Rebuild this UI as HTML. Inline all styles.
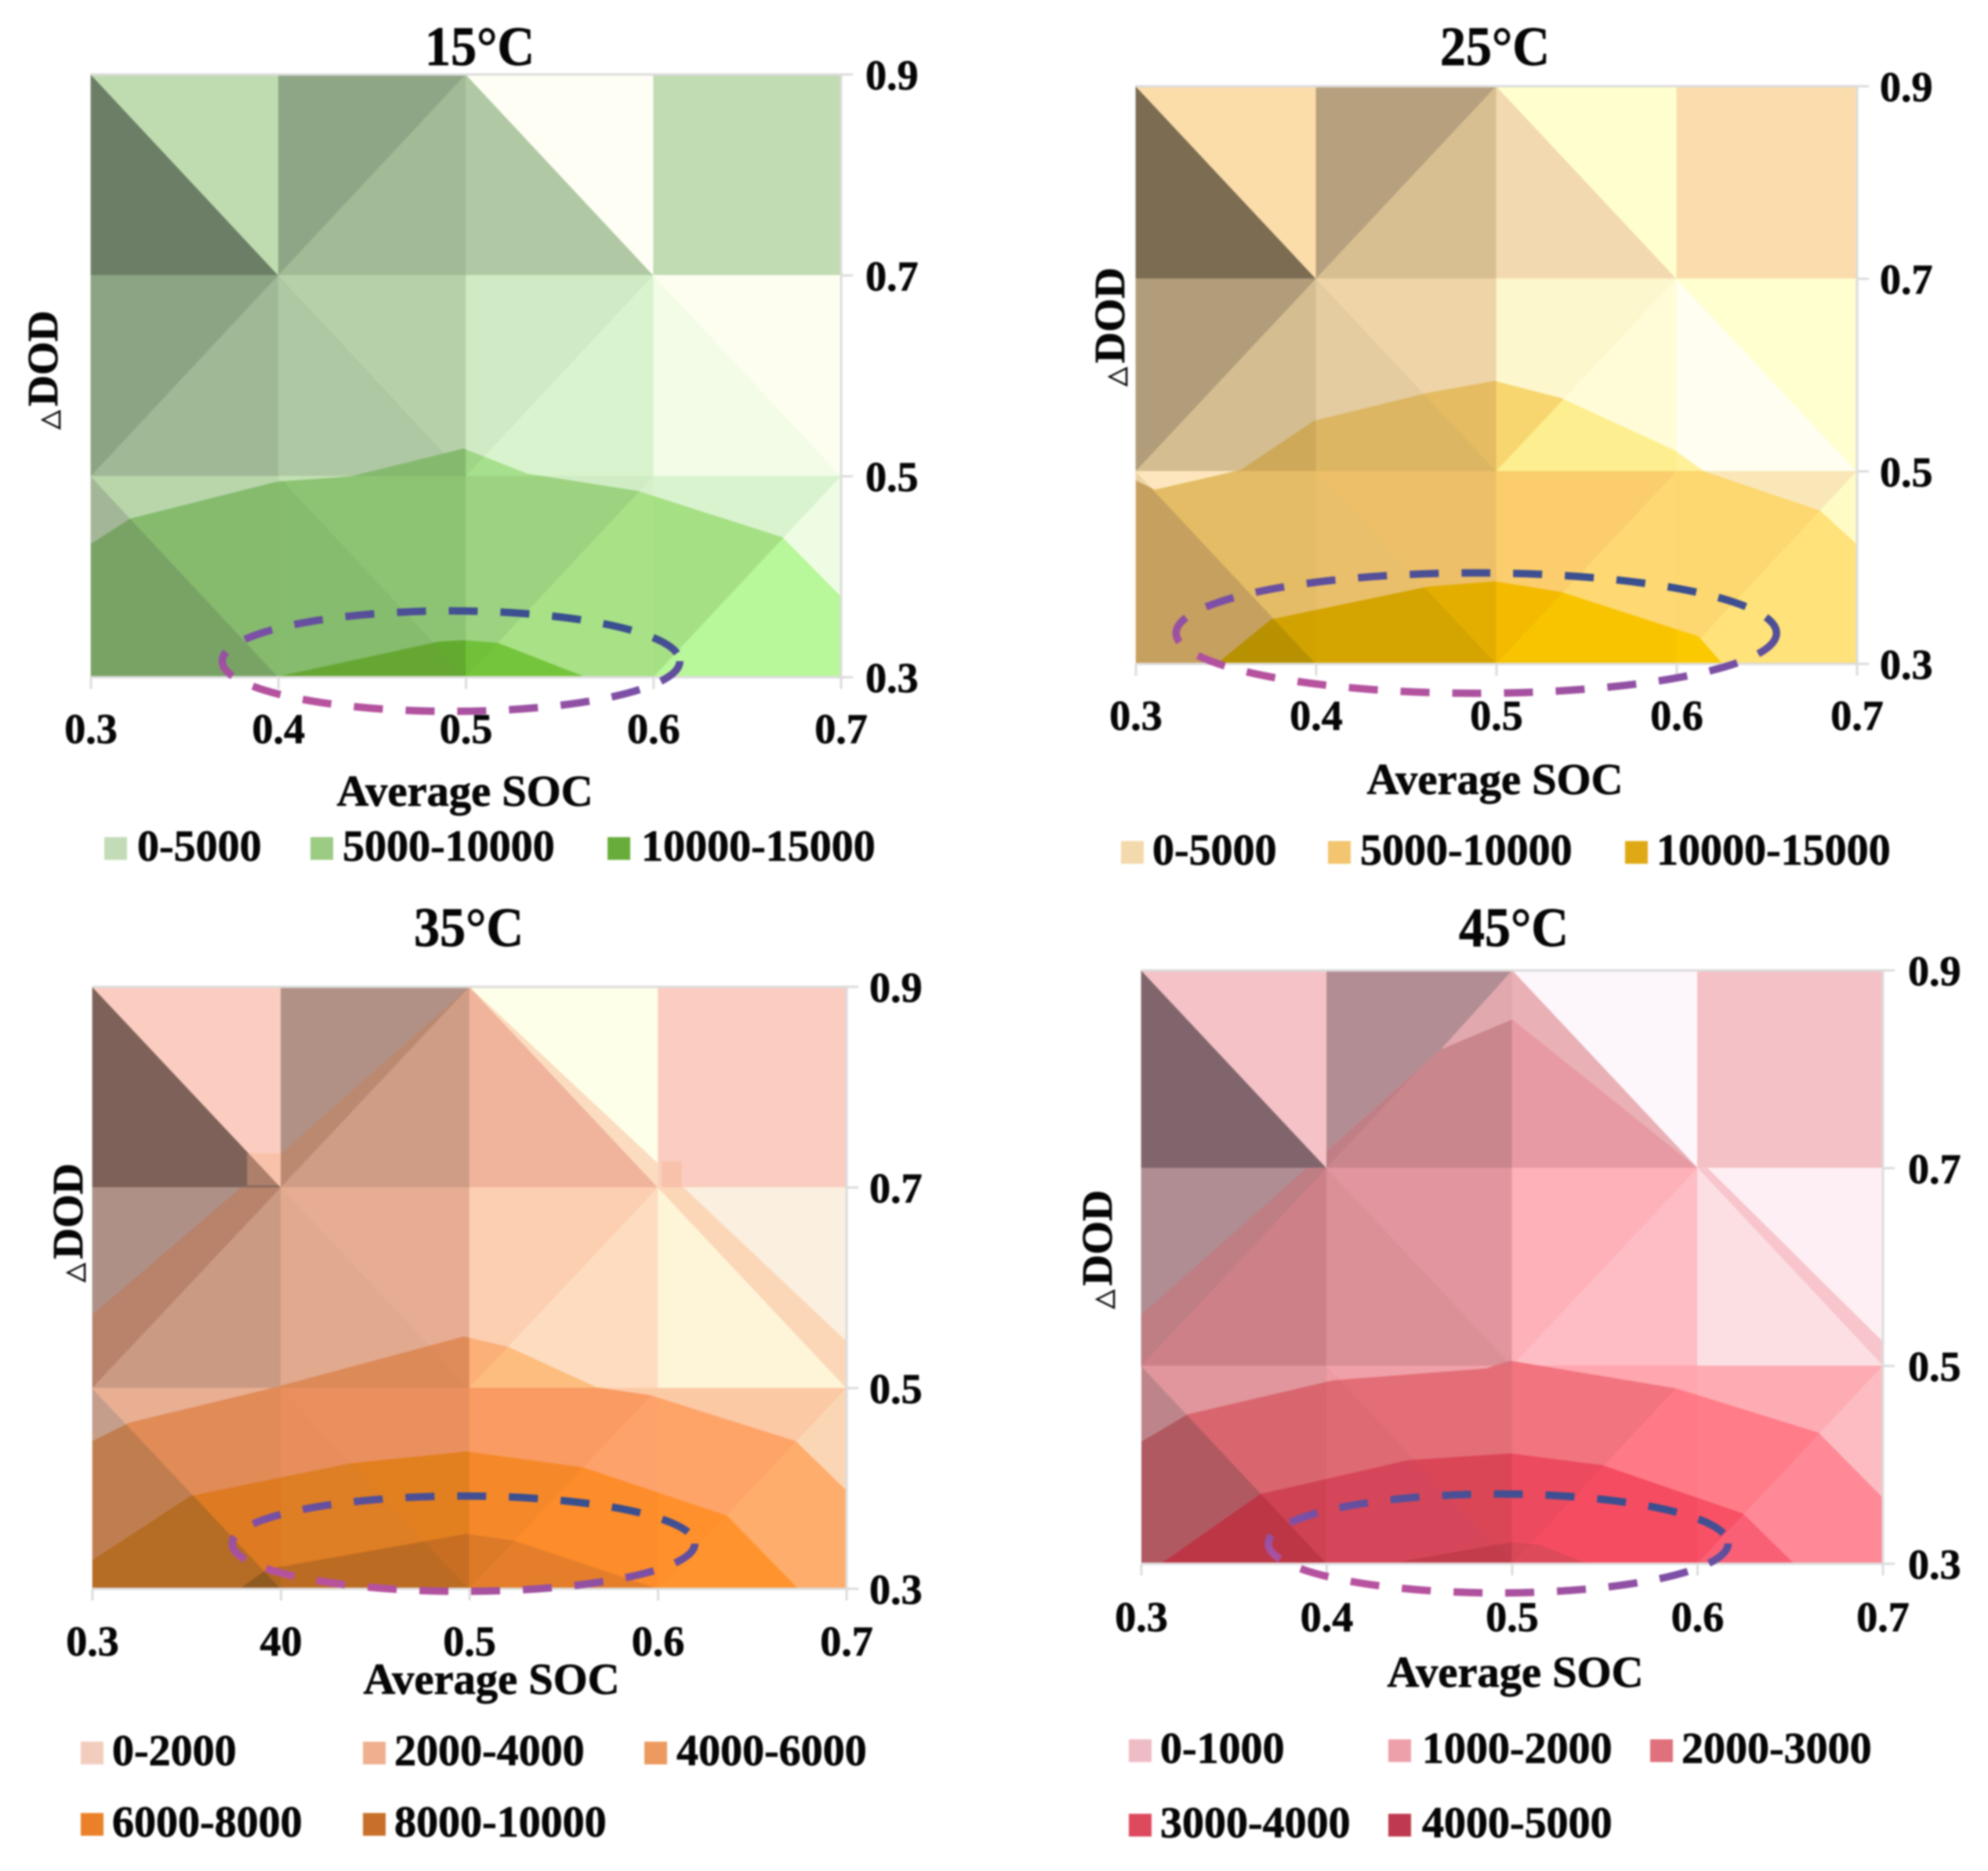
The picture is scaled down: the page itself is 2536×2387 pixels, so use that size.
<!DOCTYPE html>
<html lang="en">
<head>
<meta charset="utf-8">
<title>Cycle life contour charts by temperature</title>
<style>
html,body{margin:0;padding:0;background:#fff;}
svg{display:block;filter:blur(1.1px);}
text{font-family:"Liberation Serif",serif;font-weight:bold;fill:#060606;stroke:#060606;stroke-width:0.7px;}
</style>
</head>
<body>
<svg id="figure" xmlns="http://www.w3.org/2000/svg" width="2536" height="2387" viewBox="0 0 2536 2387">
  <defs>
    <linearGradient id="ellipseStroke" x1="0.1" y1="1" x2="0.8" y2="0">
      <stop offset="0" stop-color="#c9539c"/>
      <stop offset="0.5" stop-color="#7b4fa6"/>
      <stop offset="1" stop-color="#2f4f8c"/>
    </linearGradient>
  </defs>
</svg>
<script>
// ---- data: axis values and labels ----
const socTicks = [0.3, 0.4, 0.5, 0.6, 0.7];
const dodTicks = [0.9, 0.7, 0.5, 0.3];
const dodLabels = ['0.9', '0.7', '0.5', '0.3'];
const socLabels = ['0.3', '0.4', '0.5', '0.6', '0.7'];
const socLabels35 = ['0.3', '40', '0.5', '0.6', '0.7'];
const diagonals = [['\\', '/', '\\', '\\'], ['/', '\\', '/', '\\'], ['\\', '\\', '/', '/']];

// ---- data: contour boundaries as [SOC, DOD] pairs ----
const contours15 = [
  [[0.3,0.4329],[0.321,0.4579],[0.399,0.4947],[0.4386,0.5],[0.4987,0.5276],[0.5327,0.5026],[0.5915,0.4855],[0.6686,0.4395],[0.7,0.3803],[0.7,0.3],[0.3,0.3]],
  [[0.398,0.3],[0.4856,0.3355],[0.4987,0.3368],[0.517,0.3342],[0.564,0.3]]
];
const contours25 = [
  [[0.3,0.4905],[0.3105,0.481],[0.358,0.5014],[0.3988,0.5525],[0.462,0.5816],[0.499,0.5939],[0.5358,0.5762],[0.599,0.5218],[0.615,0.5],[0.6795,0.4592],[0.7,0.4238],[0.7,0.3],[0.3,0.3]],
  [[0.3448,0.3],[0.375,0.3463],[0.462,0.3803],[0.499,0.3857],[0.5358,0.3748],[0.612,0.3286],[0.6254,0.3]]
];
const contours35 = [
  [[0.3,0.5733],[0.4,0.734],[0.5,0.9],[0.6124,0.702],[0.7,0.5466],[0.7,0.3],[0.3,0.3]],
  [[0.3,0.4473],[0.3196,0.4656],[0.395,0.5],[0.497,0.5516],[0.5205,0.5412],[0.5675,0.5008],[0.596,0.493],[0.673,0.4473],[0.7,0.3978],[0.7,0.3],[0.3,0.3]],
  [[0.3,0.3287],[0.352,0.3926],[0.437,0.4252],[0.4983,0.4369],[0.5596,0.4213],[0.6366,0.373],[0.6744,0.3],[0.3,0.3]],
  [[0.378,0.3],[0.3927,0.3196],[0.4983,0.3548],[0.5231,0.3482],[0.6,0.3]]
];
const contours45 = [
  [[0.3,0.5517],[0.4,0.7176],[0.4616,0.8202],[0.5,0.9],[0.6,0.7],[0.6055,0.7],[0.7,0.5245],[0.7,0.3],[0.3,0.3]],
  [[0.3,0.5517],[0.4,0.7176],[0.4616,0.8202],[0.5,0.8504],[0.6,0.7],[0.7,0.5],[0.7,0.3],[0.3,0.3]],
  [[0.3,0.4234],[0.3249,0.4511],[0.4034,0.4855],[0.4859,0.4974],[0.499,0.5053],[0.588,0.4775],[0.6652,0.4326],[0.7,0.3666],[0.7,0.3],[0.3,0.3]],
  [[0.3105,0.3],[0.3641,0.3705],[0.444,0.4049],[0.499,0.4115],[0.5487,0.3996],[0.6246,0.3507],[0.6521,0.3]],
  [[0.4388,0.3018],[0.499,0.3217],[0.5147,0.319],[0.5408,0.3]]
];

// ---- data: highlighted region of each chart: [SOC centre, DOD centre, SOC radius, DOD radius] ----
const region15 = [0.492, 0.316, 0.122, 0.05];
const region25 = [0.4888, 0.332, 0.1665, 0.0625];
const region35 = [0.4968, 0.345, 0.1227, 0.0475];
const region45 = [0.4925, 0.3205, 0.124, 0.05];

// ---- data: legend ranges ----
const legend15 = ['0-5000', '5000-10000', '10000-15000'];
const legend25 = ['0-5000', '5000-10000', '10000-15000'];
const legend35 = ['0-2000', '2000-4000', '4000-6000', '6000-8000', '8000-10000'];
const legend45 = ['0-1000', '1000-2000', '2000-3000', '3000-4000', '4000-5000'];

// ---- style: facet colours per contour level, per grid row ----
const N = [null,null,null,null,null,null,null,null];
const fills15 = [
  [['#6c7f66','#bfdcb0','#8fa686','#a2ba96','#b0c9a4','#fefef5','#c1dcb3','#c1dcb3'],
   ['#8ca384','#a0b896','#aec8a4','#b6d0aa','#cfeac5','#d8f3cd','#f2fce6','#fdfeef'],
   ['#a3b798','#b8d6aa','#bcdcae','#c3e0b5','#d0ecc5','#d5f0cb','#d9f3cf','#eefce3']],
  [N,
   [null,null,'#84b96e','#84b96e','#9dd785','#a6e08c',null,null],
   ['#79a365','#86bb6e','#85bc6d','#8dc473','#9cd280','#a8e186','#a6e084','#b9f79b']],
  [N, N,
   ['#5f9a2e','#5f9a2e','#66a733','#63ab2e','#71c03a','#74c53b','#74c53b','#74c53b']]
];
const fills25 = [
  [['#7b6c52','#fbddaa','#b7a07e','#d7bf91','#f3d9af','#fffecf','#fbdcad','#fbdcad'],
   ['#b29d7b','#d4bd90','#e4cca0','#eed4a6','#fdf7cd','#fffcd7','#fffef0','#ffffcf'],
   ['#ead3a3','#fde6bd','#f0d49c','#f0d49c','#fbe0a0','#fbe0a0','#f9e7b8','#fffbc5']],
  [N,
   [null,'#cfa95a','#dcb663','#e5bc62','#f7d670','#fdef8f','#fff09a',null],
   ['#c6a05f','#e3bc65','#e9bf6b','#edbf68','#fbcd6c','#fdd873','#fdd76f','#ffe27a']],
  [N, N,
   ['#b89100','#d2a300','#d4a400','#e3ae00','#f3ba00','#f8c400','#fbc900','#fbc900']]
];
const fills35 = [
  [['#7e6259','#fbcdc0','#b19186','#b19186','#f0b49c','#feffe8','#fbcdc0','#fbcdc0'],
   ['#ae9086','#cb9a83','#e1a98e','#e6ad93','#fccfb0','#fddcc0','#fef5d9','#fbefdf'],
   ['#c59e8b','#e8af93','#f0c0a0','#f0c0a0','#fcc9a5','#fcc9a5','#fcc9a5','#fbd6b5']],
  [[null,null,'#bb8970','#cf9c85','#f0b49c','#fbdcc0',null,null],
   ['#b8826b','#cb9a83','#e1a98e','#e6ad93','#fccfb0','#fddcc0','#fef5d9','#fbd7b8'],
   ['#c59e8b','#e8af93','#f0c0a0','#f0c0a0','#fcc9a5','#fcc9a5','#fcc9a5','#fbd6b5']],
  [N,
   [null,'#d88e68','#dc8a58','#e08c5a','#fbb077','#fdbd7e',null,null],
   ['#c07e50','#e18b57','#e88e5c','#ea905e','#f99b62','#fda26a','#fea469','#ffad6c']],
  [N, N,
   ['#b56c24','#dd7a22','#de7e25','#e2801f','#f5892a','#fd8c2a','#ff902c','#ff942e']],
  [N, N,
   ['#8f5a20','#b06820','#bc6c22','#c86e22','#dc7a28','#e47e2b','#e47e2b','#e47e2b']]
];
const fills45 = [
  [['#80666c','#f4c2c7','#b28e94','#b28e94','#fdf6fb','#fdf6fb','#f4c1c6','#f4c1c6'],
   ['#af8d92','#af8d92',null,null,null,null,'#fdeff3','#fdeff3'],
   N],
  [[null,null,'#e1a8ae','#e1a8ae','#e9b0b6','#e9b0b6',null,null],
   ['#bf7d84','#cd8088',null,null,null,null,'#f8c5cc','#f8c5cc'],
   N],
  [[null,null,'#c07f86','#ca868d','#e79aa3','#e79aa3',null,null],
   ['#bf7d84','#cd8088','#db8f97','#e2959e','#feb1b9','#febcc4','#fcdfe3','#fdeff3'],
   ['#bd858b','#e0969c','#ee9ba3','#f0a0a8','#ffa6ae','#ffa6ae','#fdacb4','#fdbcc2']],
  [N,
   [null,null,'#d9707a','#d9707a','#f1747f','#f1747f',null,null],
   ['#b15961','#d9666f','#de6a74','#e46e78','#f1747f','#ff7a86','#ff7c88','#ff8997']],
  [N, N,
   ['#bd3646','#cf4253','#d6465a','#db4657','#ec4a5e','#f54c61','#f85064','#f96076']],
  [N, N,
   ['#c23c4c','#c23c4c','#c23c4c','#c43f4d','#d84856','#dd4a5a','#dd4a5a','#dd4a5a']]
];

// ---- layout ----
const charts = [
  { key:'15c', title:'15°C', titleX:612, titleY:83, box:{l:116,r:1073,t:95,b:864},
    tickX:1104, xTickY:948, xTitleX:593, xTitleY:1028, yTitleX:73, yTitleY:472,
    contours:contours15, fills:fills15, region:region15, xLabels:socLabels, legend:legend15,
    swatch:['#c3dcb7','#9ccb84','#68ad3b'],
    legendPos:[[133,1098,175],[396,1098,437],[775,1098,818]] },
  { key:'25c', title:'25°C', titleX:1907, titleY:83, box:{l:1449,r:2369,t:110,b:847},
    tickX:2398, xTickY:931, xTitleX:1907, xTitleY:1013, yTitleX:1434, yTitleY:417,
    contours:contours25, fills:fills25, region:region25, xLabels:socLabels, legend:legend25,
    swatch:['#f3d9ab','#f2c56e','#dfa915'],
    legendPos:[[1430,1103,1470],[1694,1103,1735],[2073,1103,2113]] },
  { key:'35c', title:'35°C', titleX:598, titleY:1207, box:{l:118,r:1080,t:1259,b:2027},
    tickX:1109, xTickY:2112, xTitleX:627, xTitleY:2161, yTitleX:105, yTitleY:1560,
    contours:contours35, fills:fills35, region:region35, xLabels:socLabels35, legend:legend35,
    swatch:['#f2cdbd','#f0b090','#ec9a60','#ea8128','#c8702a'],
    legendPos:[[103,2252,143],[463,2252,503],[822,2252,863],[103,2343,143],[463,2343,503]],
    ghosts:[[0.382,0.4,0.702,0.734],[0.602,0.6124,0.7,0.726]] },
  { key:'45c', title:'45°C', titleX:1931, titleY:1207, box:{l:1456,r:2402,t:1238,b:1995},
    tickX:2434, xTickY:2081, xTitleX:1933, xTitleY:2152, yTitleX:1418, yTitleY:1594,
    contours:contours45, fills:fills45, region:region45, xLabels:socLabels, legend:legend45,
    swatch:['#eebcc4','#eda0aa','#e0707c','#dd4a5e','#bf3a50'],
    legendPos:[[1440,2249,1480],[1771,2249,1814],[2105,2249,2145],[1440,2344,1480],[1771,2344,1814]] }
];

const NS = 'http://www.w3.org/2000/svg';
const root = document.getElementById('figure');
const defs = root.querySelector('defs');

function make(tag, parent, attrs) {
  const node = document.createElementNS(NS, tag);
  for (const k in attrs) node.setAttribute(k, attrs[k]);
  parent.appendChild(node);
  return node;
}
function pointsOf(list, xf, yf) {
  return list.map(function (p) { return xf(p[0]).toFixed(1) + ',' + yf(p[1]).toFixed(1); }).join(' ');
}
function facetsOfCell(row, col) {
  const l = socTicks[col], r = socTicks[col + 1], t = dodTicks[row], b = dodTicks[row + 1];
  if (diagonals[row][col] === '\\') {
    return [[[l,t],[l,b],[r,b]], [[l,t],[r,t],[r,b]]];
  }
  return [[[l,t],[r,t],[l,b]], [[r,t],[r,b],[l,b]]];
}

charts.forEach(function (chart) {
  const box = chart.box;
  const x = function (soc) { return box.l + (soc - 0.3) / 0.4 * (box.r - box.l); };
  const y = function (dod) { return box.b - (dod - 0.3) / 0.6 * (box.b - box.t); };

  const panel = make('g', root, {});
  
  

  const title = make('text', panel, { x: chart.titleX, y: chart.titleY, 'text-anchor': 'middle', 'font-size': 71, textLength: 140, lengthAdjust: 'spacingAndGlyphs' });
  title.textContent = chart.title;
  
  

  const surface = make('g', panel, {});
  
  

  chart.fills.forEach(function (levelFills, level) {
    const group = make('g', surface, {});
    
    
    if (level > 0) {
      const id = 'clip-' + chart.key + '-' + level;
      const clip = make('clipPath', defs, { id: id });
      make('polygon', clip, { points: pointsOf(chart.contours[level - 1], x, y) });
      group.setAttribute('clip-path', 'url(#' + id + ')');
    }
    levelFills.forEach(function (rowFills, row) {
      for (let col = 0; col < 4; col++) {
        facetsOfCell(row, col).forEach(function (tri, side) {
          const colour = rowFills[col * 2 + side];
          if (!colour) return;
          const facet = make('polygon', group, { points: pointsOf(tri, x, y), fill: colour, stroke: colour, 'stroke-width': 0.8 });
          
          
        });
      }
    });
  });

  (chart.ghosts || []).forEach(function (g) {
    const ghost = make('rect', surface, { x: x(g[0]), y: y(g[3]), width: x(g[1]) - x(g[0]), height: y(g[2]) - y(g[3]), fill: '#f4b08a', 'fill-opacity': 0.4 });
    
    
  });

  // frame
  const frame = make('polyline', panel, { points: box.l + ',' + box.t + ' ' + box.r + ',' + box.t + ' ' + box.r + ',' + box.b, fill: 'none', stroke: '#dcdcdc', 'stroke-width': 3 });
  
  
  const baseLine = make('line', panel, { x1: box.l, x2: box.r, y1: box.b, y2: box.b, stroke: '#dcdcdc', 'stroke-width': 3 });
  
  

  // y axis
  dodTicks.forEach(function (v, i) {
    const tick = make('line', panel, { x1: box.r, x2: box.r + 15, y1: y(v), y2: y(v), stroke: '#dcdcdc', 'stroke-width': 3 });
    
    
    const label = make('text', panel, { x: chart.tickX, y: y(v) + 19, 'font-size': 54 });
    label.textContent = dodLabels[i];
    
    
  });

  // x axis
  socTicks.forEach(function (v, i) {
    const tick = make('line', panel, { x1: x(v), x2: x(v), y1: box.b, y2: box.b + 15, stroke: '#dcdcdc', 'stroke-width': 3 });
    
    
    const label = make('text', panel, { x: x(v), y: chart.xTickY, 'text-anchor': 'middle', 'font-size': 54 });
    label.textContent = chart.xLabels[i];
    
    
  });

  const xTitle = make('text', panel, { x: chart.xTitleX, y: chart.xTitleY, 'text-anchor': 'middle', 'font-size': 56.5 });
  xTitle.textContent = 'Average SOC';
  
  

  const yTitle = make('text', panel, { x: chart.yTitleX, y: chart.yTitleY, 'text-anchor': 'middle', 'font-size': 55, transform: 'rotate(-90 ' + chart.yTitleX + ' ' + chart.yTitleY + ')' });
  
  
  const delta = make('tspan', yTitle, { 'font-size': 32, 'font-family': '"DejaVu Sans", sans-serif', 'font-weight': 'normal' });
  delta.textContent = '\u25B3';
  const dod = make('tspan', yTitle, { dx: 5 });
  dod.textContent = 'DOD';

  // highlight ellipse
  const r = chart.region;
  const ring = make('ellipse', panel, { cx: x(r[0]), cy: y(r[1]), rx: x(r[0] + r[2]) - x(r[0]), ry: y(r[1]) - y(r[1] + r[3]), fill: 'none', stroke: 'url(#ellipseStroke)', 'stroke-width': 9.5, 'stroke-dasharray': '37 29' });
  
  

  // legend
  chart.legend.forEach(function (name, i) {
    const pos = chart.legendPos[i];
    const entry = make('g', panel, {});
    
    
    const sw = make('rect', entry, { x: pos[0], y: pos[1] - 30, width: 29, height: 29, fill: chart.swatch[i] });
    
    
    const label = make('text', entry, { x: pos[2], y: pos[1], 'font-size': 56 });
    label.textContent = name;
    
    
  });
});
</script>
</body>
</html>
